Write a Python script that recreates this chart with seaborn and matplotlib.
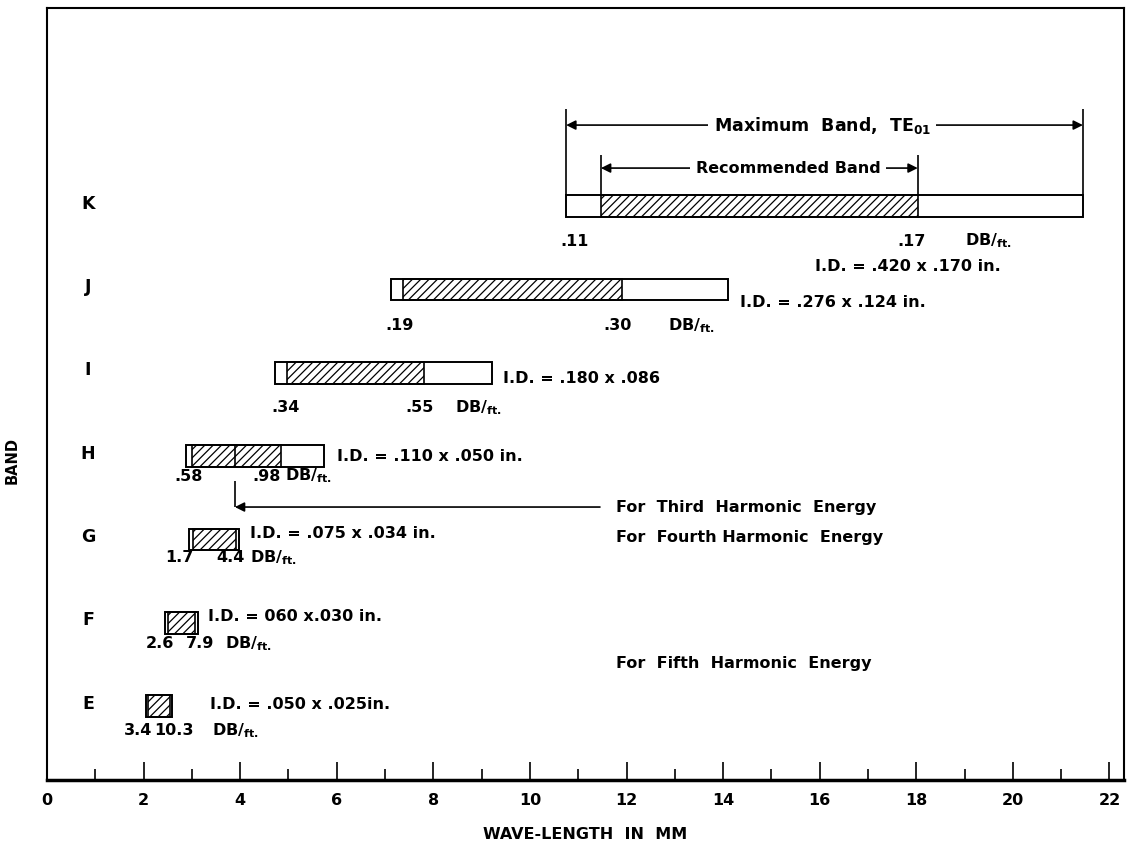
import numpy as np
import pandas as pd
import matplotlib
matplotlib.use("Agg")
import matplotlib.pyplot as plt
import seaborn as sns

# waveguide bands, wave-length in mm
bands = ["K", "J", "I", "H", "G", "F", "E"]
band_y = [7, 6, 5, 4, 3, 2, 1]
max_lo = [10.75, 7.12, 4.72, 2.88, 2.94, 2.44, 2.05]
max_hi = [21.45, 14.10, 9.21, 5.73, 3.98, 3.13, 2.59]
rec_lo = [11.47, 7.37, 4.97, 3.00, 3.02, 2.51, 2.09]
rec_hi = [18.03, 11.90, 7.81, 4.84, 3.91, 3.06, 2.55]
db_lo = [".11", ".19", ".34", ".58", "1.7", "2.6", "3.4"]
db_hi = [".17", ".30", ".55", ".98", "4.4", "7.9", "10.3"]
id_text = ["I.D. = .420 x .170 in.", "I.D. = .276 x .124 in.", "I.D. = .180 x .086",
           "I.D. = .110 x .050 in.", "I.D. = .075 x .034 in.", "I.D. = 060 x.030 in.",
           "I.D. = .050 x .025in."]
third_harmonic = 3.89  # marker in the H bar

df = pd.DataFrame({"band": bands, "y": band_y, "max_lo": max_lo, "max_hi": max_hi,
                   "rec_lo": rec_lo, "rec_hi": rec_hi})

sns.set_style("ticks")
plt.rcParams["font.family"] = ["DejaVu Sans"]
plt.rcParams["font.weight"] = "bold"
plt.rcParams["axes.labelweight"] = "bold"
plt.rcParams["text.color"] = "black"
plt.rcParams["axes.labelcolor"] = "black"
plt.rcParams["xtick.color"] = "black"
plt.rcParams["axes.edgecolor"] = "black"
plt.rcParams["mathtext.fontset"] = "custom"
plt.rcParams["mathtext.rm"] = "DejaVu Sans:bold"
plt.rcParams["mathtext.default"] = "rm"
plt.rcParams["hatch.linewidth"] = 0.9

fig = plt.figure(figsize=(11.27, 8.52), dpi=100)
ax = fig.add_axes([0.0417, 0.0845, 0.9556, 0.906])

h = 0.26
ax.barh(df["y"], df["max_hi"] - df["max_lo"], left=df["max_lo"], height=h,
        color="white", edgecolor="black", linewidth=1.4, zorder=2)
ax.barh(df["y"], df["rec_hi"] - df["rec_lo"], left=df["rec_lo"], height=h,
        fill=False, hatch="////", edgecolor="black", linewidth=1.2, zorder=3)

fs = 11.5
# band letters
for b, yy in zip(bands, band_y):
    ax.text(0.85, yy + 0.03, b, ha="center", va="center", fontsize=fs + 1)

# attenuation and I.D. labels (offsets per band, data units)
lo_x = [10.93, 7.31, 4.93, 2.94, 2.75, 2.34, 1.88]
hi_x = [17.91, 11.82, 7.72, 4.55, 3.79, 3.17, 2.62]
db_x = [19.0, 12.86, 8.45, 4.93, 4.20, 3.69, 3.42]
lab_dy = [-0.42, -0.43, -0.42, -0.24, -0.22, -0.25, -0.29]
id_x = [15.9, 14.35, 9.44, 6.0, 4.2, 3.33, 3.37]
id_dy = [-0.72, -0.16, -0.07, 0.0, 0.07, 0.07, 0.02]
for i in range(len(bands)):
    yy = band_y[i]
    ax.text(lo_x[i], yy + lab_dy[i], db_lo[i], ha="center", va="center", fontsize=fs)
    ax.text(hi_x[i], yy + lab_dy[i], db_hi[i], ha="center", va="center", fontsize=fs)
    ax.text(db_x[i], yy + lab_dy[i], r"DB/$_{\mathrm{ft.}}$", ha="left", va="center", fontsize=fs)
    ax.text(id_x[i], yy + id_dy[i], id_text[i], ha="left", va="center", fontsize=fs)

# maximum / recommended band arrows above K
k = 0
y_max, y_rec = 7.972, 7.456
ax.vlines([max_lo[k], max_hi[k]], band_y[k] + h / 2, 8.164, color="black", lw=1.2)
ax.vlines([rec_lo[k], rec_hi[k]], band_y[k] + h / 2, 7.612, color="black", lw=1.2)
ap = dict(arrowstyle="<|-|>", color="black", lw=1.2, mutation_scale=14, shrinkA=0, shrinkB=0)
ax.annotate("", xy=(max_lo[k], y_max), xytext=(max_hi[k], y_max), arrowprops=ap)
ax.annotate("", xy=(rec_lo[k], y_rec), xytext=(rec_hi[k], y_rec), arrowprops=ap)
bb = dict(facecolor="white", edgecolor="none", pad=4)
ax.text(16.05, y_max, r"Maximum  Band,  TE$_{01}$", ha="center", va="center",
        fontsize=fs + 1, bbox=bb, zorder=5)
ax.text(15.35, y_rec, "Recommended Band", ha="center", va="center", fontsize=fs,
        bbox=bb, zorder=5)

# harmonic energy notes
hb = 3
y_third = 3.388
ap1 = dict(arrowstyle="-|>", color="black", lw=1.2, mutation_scale=14, shrinkA=0, shrinkB=0)
ax.vlines(third_harmonic, band_y[hb] - h / 2, band_y[hb] + h / 2, color="black", lw=1.2, zorder=4)
ax.vlines(third_harmonic, band_y[hb] - 0.3, y_third, color="black", lw=1.2)
ax.annotate("", xy=(third_harmonic, y_third), xytext=(11.45, y_third), arrowprops=ap1)
ax.text(11.78, y_third, "For  Third  Harmonic  Energy", ha="left", va="center", fontsize=fs)
ax.text(11.78, 3.028, "For  Fourth Harmonic  Energy", ha="left", va="center", fontsize=fs)
ax.text(11.78, 1.516, "For  Fifth  Harmonic  Energy", ha="left", va="center", fontsize=fs)

ax.set_xlim(0, 22.3)
ax.set_ylim(0.112, 9.376)
ax.set_xticks(np.arange(0, 23, 2))
ax.set_xticks(np.arange(1, 23, 2), minor=True)
ax.tick_params(axis="x", which="major", direction="in", length=13, width=1.2,
               labelsize=fs, pad=9)
ax.tick_params(axis="x", which="minor", direction="in", length=8, width=1.2)
ax.tick_params(axis="y", left=False, labelleft=False)
for s in ax.spines.values():
    s.set_linewidth(1.5)
ax.spines["bottom"].set_linewidth(2.5)

ax.set_xlabel("WAVE-LENGTH  IN  MM", fontsize=fs, labelpad=14)
fig.text(0.011, 0.46, "BAND", rotation=90, ha="center", va="center", fontsize=fs - 1)

fig.savefig("out.png", dpi=100)
